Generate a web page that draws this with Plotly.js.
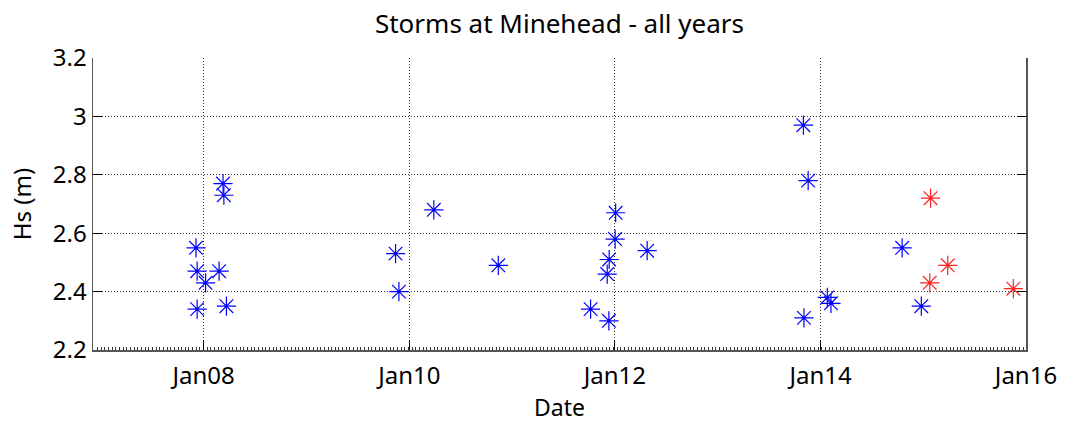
<!DOCTYPE html>
<html>
<head>
<meta charset="utf-8">
<script src="https://cdn.plot.ly/plotly-3.0.1.min.js"></script>
<style>html,body{margin:0;padding:0;background:#fff;}#chart{width:1067px;height:426px;}</style>
</head>
<body>
<div id="chart"></div>
<script>
// Storms (blue) - earlier years
const blueDates = ["2008-03-10","2008-03-13","2007-12-05","2007-12-09","2008-02-25","2008-01-08","2007-12-09","2008-03-22",
  "2010-03-29","2009-11-13","2009-11-25","2010-11-13",
  "2012-01-04","2012-01-02","2012-04-25","2011-12-12","2011-12-05","2011-10-07","2011-12-11",
  "2013-11-01","2013-11-18","2013-11-03","2014-01-25","2014-02-07",
  "2014-10-18","2014-12-25"];
const blueHs = [2.77,2.73,2.55,2.47,2.47,2.43,2.34,2.35,
  2.68,2.53,2.40,2.49,
  2.67,2.58,2.54,2.51,2.46,2.34,2.30,
  2.97,2.78,2.31,2.38,2.36,
  2.55,2.35];
// Storms (red) - latest year
const redDates = ["2015-01-27","2015-03-29","2015-01-24","2015-11-17"];
const redHs = [2.72,2.49,2.43,2.41];

const xTickVals = ["2008-01-01","2010-01-01","2012-01-01","2014-01-01","2016-01-01"];
const xTickText = ["Jan08","Jan10","Jan12","Jan14","Jan16"];
const yTickVals = [2.2,2.4,2.6,2.8,3.0,3.2];
const yTickText = ["2.2","2.4","2.6","2.8","3","3.2"];

const font = "Noto Sans, Open Sans, DejaVu Sans, sans-serif";
const xRange = ["2006-12-04","2016-01-01"];

const traces = [
  {x: blueDates, y: blueHs, type: "scatter", mode: "markers",
   marker: {symbol: "asterisk-open", size: 16, color: "#0000ff", line: {color: "#0000ff", width: 1.2}},
   hoverinfo: "x+y", showlegend: false},
  {x: redDates, y: redHs, type: "scatter", mode: "markers",
   marker: {symbol: "asterisk-open", size: 16, color: "#ff2020", line: {color: "#ff2020", width: 1.2}},
   hoverinfo: "x+y", showlegend: false}
];

const layout = {
  width: 1067, height: 426,
  margin: {l: 93, r: 41, t: 58, b: 76},
  paper_bgcolor: "#fff", plot_bgcolor: "#fff",
  font: {family: font, color: "#000", size: 24},
  title: {text: "Storms at Minehead - all years", xref: "paper", x: 0.5, xanchor: "center", y: 0.945, yanchor: "middle",
          font: {family: font, size: 26, color: "#000"}},
  xaxis: {
    type: "date", range: xRange,
    tickvals: xTickVals, ticktext: xTickText,
    ticks: "inside", ticklen: 9, tickcolor: "#000", tickwidth: 1,
    showline: true, linecolor: "#555", linewidth: 1.5, mirror: false,
    showgrid: true, gridcolor: "#333", griddash: "1px,2px", gridwidth: 1,
    zeroline: false, ticklabelstandoff: 4,
    tickfont: {family: font, size: 24},
    minor: {ticks: "inside", ticklen: 3, tickcolor: "#333", dtick: 13 * 86400000, tick0: "2008-01-01", showgrid: false},
    title: {text: "Date", font: {family: font, size: 23}, standoff: 2}
  },
  xaxis2: {
    type: "date", range: xRange, overlaying: "x", side: "top",
    tickvals: xTickVals, showticklabels: false,
    ticks: "inside", ticklen: 9, tickcolor: "#000",
    showline: true, linecolor: "#555", linewidth: 1.5,
    showgrid: false, zeroline: false
  },
  yaxis: {
    range: [2.2, 3.2],
    tickvals: yTickVals, ticktext: yTickText,
    ticks: "inside", ticklen: 9, tickcolor: "#000",
    showline: true, linecolor: "#555", linewidth: 1.5, mirror: "ticks",
    showgrid: true, gridcolor: "#333", griddash: "1px,2px", gridwidth: 1,
    zeroline: false,
    tickfont: {family: font, size: 24},
    title: {text: "Hs (m)", font: {family: font, size: 24}, standoff: 14}
  }
};

Plotly.newPlot("chart", traces, layout, {displayModeBar: false, staticPlot: true});
</script>
</body>
</html>
